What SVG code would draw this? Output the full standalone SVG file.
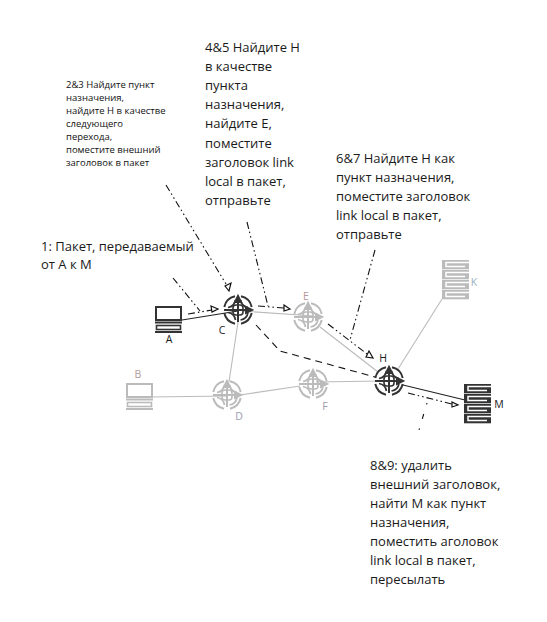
<svg xmlns="http://www.w3.org/2000/svg" xmlns:xlink="http://www.w3.org/1999/xlink" width="547" height="622" viewBox="0 0 547 622">
<style>
.t{font-family:"Open Sans","Noto Sans","Liberation Sans",sans-serif;fill:#1a1a1a}
.b{font-size:13px}
.s{font-size:9.500px;font-weight:500;fill:#111}
.l{font-size:10.500px}
.link{fill:none;stroke:#bbb;stroke-width:1.100}
.dark{fill:none;stroke:#222;stroke-width:1.100}
.dd{fill:none;stroke:#111;stroke-width:1.100;stroke-dasharray:7 3 1.500 3 1.500 3}
.sp{fill:none;stroke:#111;stroke-width:1.100;stroke-dasharray:1.500 10 5 10}
.da{fill:none;stroke:#111;stroke-width:1.100;stroke-dasharray:7 5}
.tip{fill:#fff;stroke:#111;stroke-width:1.200}
</style>
<defs>
<g id="router" fill="none" stroke-width="2">
<path d="M-3-13.700A14 14 0 0 0-13.700-3M3-13.700A14 14 0 0 1 13.700-3M-13.700 3A14 14 0 0 0-3 13.700M3 13.700A14 14 0 0 0 13.700 3"/>
<path d="M-2.500-10A9 9 0 0 1-10-2.500M2.500-10A9 9 0 0 0 10-2.500M-10 2.500A9 9 0 0 1-2.500 10M2.500 10A9 9 0 0 0 10 2.500" stroke-width="1.700"/>
<rect x="-5" y="-5" width="10" height="10" rx="3" stroke-width="1.600"/>
<path d="M0 12V-10M-14 0H10"/>
<path d="M0-14L-3-8H3ZM14 0L8-3V3Z" fill="currentColor"/>
</g>
<g id="host" fill="none">
<rect x="1" y="1" width="25" height="13" stroke-width="2"/>
<path d="M0 16.500H27M0 26H27" stroke-width="2"/>
<rect x="1.500" y="19.500" width="24" height="4" stroke-width="1.600"/>
</g>
<g id="unit">
<rect width="27" height="9.300" fill="currentColor" stroke="none"/>
<path d="M27 2.500H4V6.500H23" fill="none" stroke="#fff" stroke-width="1.500"/>
</g>
<g id="server">
<use xlink:href="#unit" y="0"/>
<use xlink:href="#unit" y="10"/>
<use xlink:href="#unit" y="20"/>
<use xlink:href="#unit" y="30"/>
</g>
</defs>
<g id="connectors">
<path class="dark" d="M182 320L238 311"/>
<path class="link" d="M242 311L314 316"/>
<path class="link" d="M238 322L229 382"/>
<path class="link" d="M150 397L228 396"/>
<path class="link" d="M240 395L300 386"/>
<path class="link" d="M316 382L382 381"/>
<path class="link" d="M320 327L378 372"/>
<path class="link" d="M442 299L398 369"/>
<path class="dark" d="M403 385L465 400"/>
<path class="dd" d="M173 278L200 311"/>
<path class="dd" d="M188 314L212 310"/>
<path class="tip" d="M211 306L218 309L212 312Z"/>
<path class="dd" d="M166 185L226 284"/>
<path class="tip" d="M225 286L231 283L229 291Z"/>
<path class="dd" d="M247 222L268 306"/>
<path class="dd" d="M258 306L284 308"/>
<path class="tip" d="M284 305L290 309L284 311Z"/>
<path class="dd" d="M375 250L350 340"/>
<path class="dd" d="M328 324L367 354"/>
<path class="tip" d="M369 351L373 358L366 357Z"/>
<path class="dd" d="M408 393L452 404"/>
<path class="tip" d="M452 402L458 405L452 407Z"/>
<path class="sp" d="M427 403L419 430"/>
<path class="da" d="M256 325L280 351L375 377"/>
</g>
<g id="A" color="#333" stroke="#333">
<use xlink:href="#host" x="155" y="306"/>
<text class="t l" x="169" y="343" text-anchor="middle" stroke="none">A</text>
</g>
<g id="B" color="#bbb" stroke="#bbb">
<use xlink:href="#host" x="126" y="383"/>
<text class="t l" x="138" y="378" text-anchor="middle" stroke="none" style="fill:#b39a9a">B</text>
</g>
<g id="C" color="#333" stroke="#333">
<use xlink:href="#router" x="238" y="310"/>
<text class="t l" x="222" y="334" text-anchor="middle" stroke="none">C</text>
</g>
<g id="D" color="#bbb" stroke="#bbb">
<use xlink:href="#router" x="227" y="395"/>
<text class="t l" x="239" y="420" text-anchor="middle" stroke="none" style="fill:#9a9ab0">D</text>
</g>
<g id="E" color="#bbb" stroke="#bbb">
<use xlink:href="#router" x="308" y="317"/>
<text class="t l" x="306" y="300" text-anchor="middle" stroke="none" style="fill:#b39a9a">E</text>
</g>
<g id="F" color="#bbb" stroke="#bbb">
<use xlink:href="#router" x="313" y="384"/>
<text class="t l" x="325" y="410" text-anchor="middle" stroke="none" style="fill:#9a9ab0">F</text>
</g>
<g id="H" color="#333" stroke="#333">
<use xlink:href="#router" x="389" y="381"/>
<text class="t l" x="383" y="362" text-anchor="middle" stroke="none">H</text>
</g>
<g id="K" color="#bbb">
<use xlink:href="#server" x="442" y="260"/>
<text class="t l" x="474" y="286" text-anchor="middle" style="fill:#9ab0c0">K</text>
</g>
<g id="M" color="#333">
<use xlink:href="#server" x="464" y="384"/>
<text class="t l" x="499" y="408" text-anchor="middle">M</text>
</g>
<g id="labels">
<text class="t s"><tspan x="66" y="88">2&amp;3 Найдите пункт</tspan><tspan x="66" y="101">назначения,</tspan><tspan x="66" y="114">найдите Н в качестве</tspan><tspan x="66" y="127">следующего</tspan><tspan x="66" y="140">перехода,</tspan><tspan x="66" y="153">поместите внешний</tspan><tspan x="66" y="166">заголовок в пакет</tspan></text>
<text class="t b"><tspan x="41" y="251">1: Пакет, передаваемый</tspan><tspan x="41" y="269">от А к М</tspan></text>
<text class="t b"><tspan x="205" y="52">4&amp;5 Найдите Н</tspan><tspan x="205" y="71">в качестве</tspan><tspan x="205" y="90">пункта</tspan><tspan x="205" y="109">назначения,</tspan><tspan x="205" y="128">найдите Е,</tspan><tspan x="205" y="148">поместите</tspan><tspan x="205" y="167">заголовок link</tspan><tspan x="205" y="186">local в пакет,</tspan><tspan x="205" y="205">отправьте</tspan></text>
<text class="t b"><tspan x="336" y="163">6&amp;7 Найдите Н как</tspan><tspan x="336" y="182">пункт назначения,</tspan><tspan x="336" y="201">поместите заголовок</tspan><tspan x="336" y="220">link local в пакет,</tspan><tspan x="336" y="239">отправьте</tspan></text>
<text class="t b"><tspan x="370" y="470">8&amp;9: удалить</tspan><tspan x="370" y="489">внешний заголовок,</tspan><tspan x="370" y="508">найти М как пункт</tspan><tspan x="370" y="527">назначения,</tspan><tspan x="370" y="546">поместить аголовок</tspan><tspan x="370" y="565">link local в пакет,</tspan><tspan x="370" y="584">пересылать</tspan></text>
</g>
</svg>
